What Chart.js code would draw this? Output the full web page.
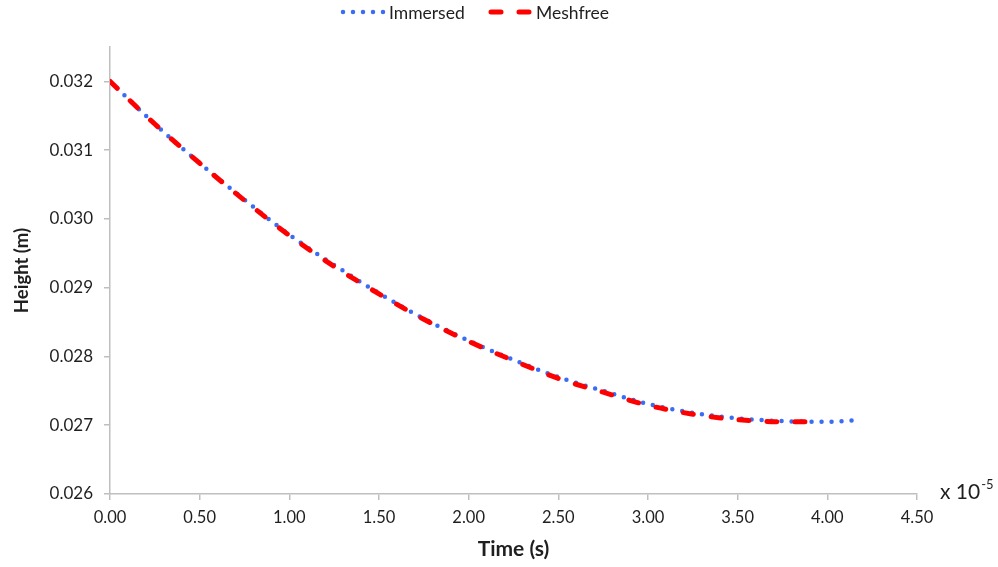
<!DOCTYPE html>
<html>
<head>
<meta charset="utf-8">
<title>Height vs Time</title>
<script src="https://cdn.jsdelivr.net/npm/chart.js@4/dist/chart.umd.min.js"></script>
<style>
  html, body { margin: 0; padding: 0; background: #ffffff; }
  #wrap { width: 998px; height: 567px; position: relative; }
</style>
</head>
<body>
<div id="wrap">
  <canvas id="heightChart" width="998" height="567"></canvas>
</div>
<script>
// ---- data (time in units of 1e-5 s, height in m) ----
const immersedTime = [0, 0.25, 0.5, 0.75, 1.0, 1.25, 1.5, 1.75, 2.0, 2.25, 2.5, 2.75, 3.0, 3.25, 3.5, 3.75, 4.0, 4.15];
const immersedHeight = [0.03200, 0.03138, 0.03081, 0.03028, 0.02977, 0.02933, 0.02892, 0.02855, 0.02823,
  0.02795, 0.02770, 0.02750, 0.02731, 0.02718, 0.02710, 0.02706, 0.02705, 0.02707];

const meshfreeTime = [0, 0.25, 0.5, 0.75, 1.0, 1.25, 1.5, 1.75, 2.0, 2.25, 2.5, 2.75, 3.0, 3.25, 3.5, 3.75, 3.97];
const meshfreeHeight = [0.03200, 0.03138, 0.03081, 0.03027, 0.02976, 0.02931, 0.02891, 0.02854, 0.02822,
  0.02794, 0.02768, 0.02748, 0.02729, 0.02716, 0.02708, 0.02705, 0.02705];

const xTicks = [0, 0.5, 1.0, 1.5, 2.0, 2.5, 3.0, 3.5, 4.0, 4.5];
const yTicks = [0.026, 0.027, 0.028, 0.029, 0.030, 0.031, 0.032];

const toPoints = (xs, ys) => xs.map((x, i) => ({ x: x, y: ys[i] }));

const BLUE = '#3a6cf4';
const RED = '#ff0000';
const AXIS = '#bfbfbf';
const TEXT = '#1f1f1f';
const FONT = 'Lato, "Open Sans", sans-serif';

// legend across the top + the "x 10^-5" multiplier beside the x axis
const decorations = {
  id: 'decorations',
  afterDraw(chart) {
    const ctx = chart.ctx;
    ctx.save();
    const ly = 12;

    // dotted sample
    ctx.strokeStyle = BLUE;
    ctx.lineWidth = 4.5;
    ctx.lineCap = 'round';
    ctx.setLineDash([0, 10]);
    ctx.beginPath();
    ctx.moveTo(343, ly);
    ctx.lineTo(386, ly);
    ctx.stroke();

    // dashed sample
    ctx.strokeStyle = RED;
    ctx.lineWidth = 5;
    ctx.setLineDash([10, 18]);
    ctx.beginPath();
    ctx.moveTo(491, ly);
    ctx.lineTo(533, ly);
    ctx.stroke();
    ctx.setLineDash([]);

    ctx.fillStyle = TEXT;
    ctx.font = '17.5px ' + FONT;
    ctx.textBaseline = 'middle';
    ctx.textAlign = 'left';
    ctx.fillText('Immersed', 389, ly + 1);
    ctx.fillText('Meshfree', 536, ly + 1);

    // axis multiplier
    ctx.textBaseline = 'alphabetic';
    ctx.font = '21px ' + FONT;
    ctx.fillText('x 10', 940, 499);
    const w = ctx.measureText('x 10').width;
    ctx.font = '13px ' + FONT;
    ctx.fillText('-5', 940 + w + 1, 489);
    ctx.restore();
  }
};

new Chart(document.getElementById('heightChart'), {
  type: 'line',
  data: {
    datasets: [
      {
        label: 'Meshfree',
        data: toPoints(meshfreeTime, meshfreeHeight),
        borderColor: RED,
        borderWidth: 5,
        borderDash: [10, 18],
        borderCapStyle: 'round',
        cubicInterpolationMode: 'monotone',
        pointRadius: 0,
        fill: false,
        order: 0
      },
      {
        label: 'Immersed',
        data: toPoints(immersedTime, immersedHeight),
        borderColor: BLUE,
        borderWidth: 4.5,
        borderDash: [0, 10],
        borderCapStyle: 'round',
        cubicInterpolationMode: 'monotone',
        pointRadius: 0,
        fill: false,
        order: 1
      }
    ]
  },
  options: {
    responsive: false,
    animation: false,
    layout: { padding: { top: 47, right: 81, bottom: 0, left: 0 } },
    plugins: {
      legend: { display: false },
      tooltip: { enabled: false }
    },
    scales: {
      x: {
        type: 'linear',
        min: 0,
        max: 4.5,
        afterBuildTicks: scale => { scale.ticks = xTicks.map(v => ({ value: v })); },
        afterFit: scale => { scale.height = 73; },
        grid: { drawOnChartArea: false, color: AXIS, tickLength: 6, lineWidth: 1.5 },
        border: { color: AXIS, width: 1.5 },
        ticks: {
          padding: 8,
          color: TEXT,
          font: { family: FONT, size: 16.5 },
          callback: v => v.toFixed(2)
        },
        title: {
          display: true,
          text: 'Time (s)',
          color: TEXT,
          font: { family: FONT, size: 21, weight: 'bold' },
          padding: { top: 0, bottom: 5 }
        }
      },
      y: {
        min: 0.026,
        max: 0.0325,
        afterBuildTicks: scale => { scale.ticks = yTicks.map(v => ({ value: v })); },
        afterFit: scale => { scale.width = 110; },
        grid: { drawOnChartArea: false, color: AXIS, tickLength: 6, lineWidth: 1.5 },
        border: { color: AXIS, width: 1.5 },
        ticks: {
          padding: 11,
          color: TEXT,
          font: { family: FONT, size: 17 },
          callback: v => v.toFixed(3)
        },
        title: {
          display: true,
          text: 'Height (m)',
          color: TEXT,
          font: { family: FONT, size: 18.5, weight: 'bold' },
          padding: { top: 11, bottom: 0 }
        }
      }
    }
  },
  plugins: [decorations]
});
</script>
</body>
</html>
